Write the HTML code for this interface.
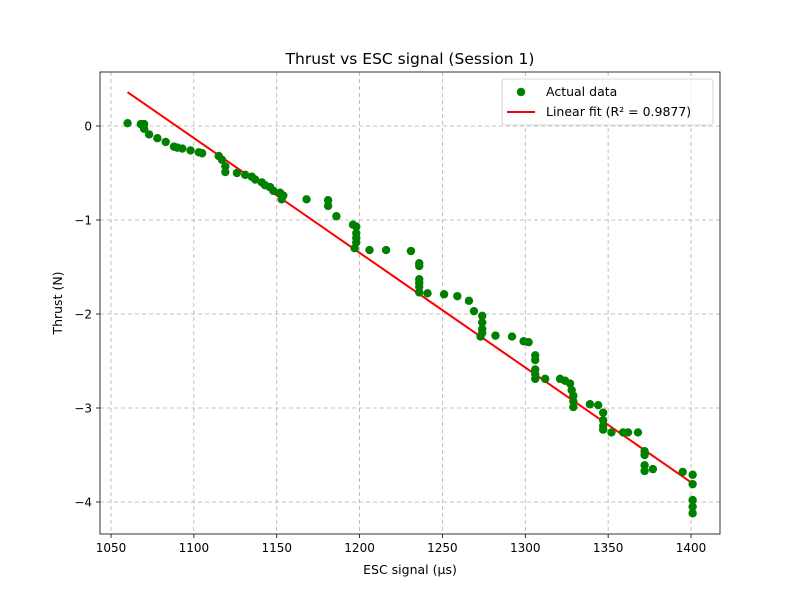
<!DOCTYPE html>
<html><head><meta charset="utf-8"><style>
body{margin:0;background:#fff}
svg text{font-family:"DejaVu Sans","Liberation Sans",sans-serif;fill:#000}
</style></head><body>
<svg id="chart" width="800" height="600" xmlns="http://www.w3.org/2000/svg">
<rect width="800" height="600" fill="#fff"/>
<g id="grid"></g><g id="fit"></g><g id="pts"></g><g id="axes"></g>
</svg>
<script>
const escSignal=[1060,1068,1070,1070,1073,1078,1083,1088,1090,1093,1098,1103,1105,1115,1117,1119,1119,1126,1131,1135,1137,1141,1143,1146,1148,1152,1154,1153,1168,1181,1181,1186,1196,1198,1198,1198,1198,1197,1206,1216,1231,1236,1236,1236,1236,1236,1236,1241,1251,1259,1266,1269,1274,1274,1274,1274,1273,1282,1292,1299,1302,1306,1306,1306,1306,1306,1312,1321,1324,1327,1328,1329,1329,1329,1339,1344,1347,1347,1347,1347,1352,1359,1362,1368,1372,1372,1372,1372,1377,1395,1401,1401,1401,1401,1401];
const thrust=[0.03,0.02,0.02,-0.03,-0.09,-0.13,-0.17,-0.22,-0.23,-0.24,-0.26,-0.28,-0.29,-0.32,-0.36,-0.43,-0.49,-0.50,-0.52,-0.54,-0.57,-0.60,-0.63,-0.65,-0.69,-0.71,-0.74,-0.78,-0.78,-0.79,-0.85,-0.96,-1.05,-1.07,-1.14,-1.19,-1.24,-1.30,-1.32,-1.32,-1.33,-1.46,-1.49,-1.63,-1.67,-1.71,-1.77,-1.78,-1.79,-1.81,-1.86,-1.97,-2.02,-2.09,-2.16,-2.20,-2.24,-2.23,-2.24,-2.29,-2.30,-2.44,-2.49,-2.59,-2.64,-2.69,-2.69,-2.69,-2.71,-2.74,-2.81,-2.87,-2.93,-2.99,-2.96,-2.97,-3.05,-3.13,-3.19,-3.23,-3.26,-3.26,-3.26,-3.26,-3.46,-3.50,-3.61,-3.67,-3.65,-3.68,-3.71,-3.81,-3.98,-4.05,-4.12];
const fitX=[1060,1400];
const fitY=[0.36,-3.79];
const xTicks=[1050,1100,1150,1200,1250,1300,1350,1400];
const yTicks=[0,-1,-2,-3,-4];
const L=100,R=720,T=72,B=534;
const X=v=>111+(v-1050)*(580/350);
const Y=v=>126-v*94;
const NS="http://www.w3.org/2000/svg";
function mk(tag,attrs,parent,txt){const e=document.createElementNS(NS,tag);for(const k in attrs)e.setAttribute(k,attrs[k]);if(txt!==undefined)e.textContent=txt;(typeof parent==='string'?document.getElementById(parent):parent).appendChild(e);return e;}
xTicks.forEach(t=>{
 const g=mk('line',{x1:X(t),x2:X(t),y1:T,y2:B,stroke:'#b0b0b0','stroke-dasharray':'4,3','stroke-width':0.8},'grid');
 
 
 mk('line',{x1:X(t),x2:X(t),y1:B,y2:B+4,stroke:'#000','stroke-width':0.8},'axes');
 const tx=mk('text',{x:X(t),y:B+18,'text-anchor':'middle','font-size':'12'},'axes',String(t));
 
 
});
yTicks.forEach(t=>{
 const g=mk('line',{x1:L,x2:R,y1:Y(t),y2:Y(t),stroke:'#b0b0b0','stroke-dasharray':'4,3','stroke-width':0.8},'grid');
 
 
 mk('line',{x1:L-4,x2:L,y1:Y(t),y2:Y(t),stroke:'#000','stroke-width':0.8},'axes');
 const tx=mk('text',{x:L-8,y:Y(t)+4.5,'text-anchor':'end','font-size':'12'},'axes',t<0?'\u2212'+(-t):String(t));
 
 
});
const fl=mk('line',{x1:X(fitX[0]),y1:Y(fitY[0]),x2:X(fitX[1]),y2:Y(fitY[1]),stroke:'#ff0000','stroke-width':2},'fit');


for(let i=0;i<escSignal.length;i++){
 const c=mk('circle',{cx:X(escSignal[i]),cy:Y(thrust[i]),r:4.2,fill:'#008000'},'pts');
 
 
}
const fr=mk('rect',{x:L,y:T,width:R-L,height:B-T,fill:'none',stroke:'#000','stroke-width':0.8},'axes');


const ti=mk('text',{x:410,y:64,'text-anchor':'middle','font-size':'15.5'},'axes','Thrust vs ESC signal (Session 1)');


const xl=mk('text',{x:410,y:574,'text-anchor':'middle','font-size':'12.5'},'axes','ESC signal (\u03bcs)');


const yl=mk('text',{x:0,y:0,'text-anchor':'middle','font-size':'12.5',transform:'translate(62,303) rotate(-90)'},'axes','Thrust (N)');


const lg=mk('g',{},'axes');


mk('rect',{x:502,y:79,width:211,height:46,rx:3,fill:'#fff','fill-opacity':0.8,stroke:'#ccc','stroke-width':0.8},lg);
mk('circle',{cx:521,cy:92,r:4.2,fill:'#008000'},lg);
const l1=mk('text',{x:546,y:96,'font-size':'12.5'},lg,'Actual data');


mk('line',{x1:507,x2:535,y1:112,y2:112,stroke:'#ff0000','stroke-width':2},lg);
const l2=mk('text',{x:546,y:116,'font-size':'12.5'},lg,'Linear fit (R\u00b2 = 0.9877)');


</script>
</body></html>
